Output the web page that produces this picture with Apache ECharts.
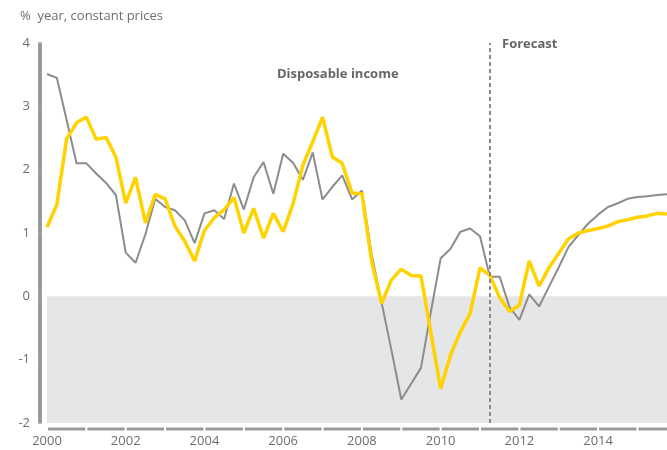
<!DOCTYPE html>
<html>
<head>
<meta charset="utf-8">
<script src="https://cdn.jsdelivr.net/npm/echarts@6/dist/echarts.min.js"></script>
<style>
  html, body { margin: 0; padding: 0; background: #fff; }
  #chart { width: 667px; height: 450px; }
</style>
</head>
<body>
<div id="chart"></div>
<script>
// quarterly points, 2000 Q1 .. 2015 Q4
const startYear = 2000;
const disposableIncome = [
  3.51, 3.45, 2.78, 2.10,
  2.10, 1.94, 1.79, 1.60,
  0.69, 0.53, 0.98, 1.54,
  1.41, 1.36, 1.20, 0.84,
  1.31, 1.36, 1.22, 1.78,
  1.37, 1.88, 2.12, 1.62,
  2.25, 2.11, 1.84, 2.27,
  1.53, 1.73, 1.91, 1.53,
  1.67, 0.65, -0.10, -0.85,
  -1.63, -1.38, -1.13, -0.25,
  0.60, 0.75, 1.02, 1.07,
  0.95, 0.31, 0.31, -0.17,
  -0.37, 0.03, -0.16, 0.15,
  0.46, 0.78, 0.97, 1.15,
  1.29, 1.41, 1.47, 1.54,
  1.57, 1.58, 1.60, 1.61
];
const consumption = [
  1.09, 1.45, 2.49, 2.74,
  2.83, 2.48, 2.51, 2.20,
  1.47, 1.88, 1.16, 1.61,
  1.54, 1.11, 0.87, 0.56,
  1.04, 1.24, 1.37, 1.56,
  1.00, 1.39, 0.92, 1.31,
  1.02, 1.46, 2.07, 2.44,
  2.83, 2.20, 2.10, 1.63,
  1.62, 0.54, -0.11, 0.26,
  0.43, 0.33, 0.32, -0.57,
  -1.46, -0.93, -0.56, -0.27,
  0.45, 0.33, -0.02, -0.24,
  -0.14, 0.56, 0.16, 0.45,
  0.68, 0.91, 1.00, 1.04,
  1.07, 1.11, 1.18, 1.21,
  1.25, 1.27, 1.31, 1.30
];
const forecastStart = 2011.25;
const xMin = 2000, xMax = 2015.75;
const yMin = -2, yMax = 4;

const toPairs = arr => arr.map((v, i) => [startYear + i / 4, v]);

const textColor = '#6e6e6e';
const axisColor = '#9a9a9a';
const fontFamily = 'Open Sans, Lato, sans-serif';

const chart = echarts.init(document.getElementById('chart'));

// grid geometry, only used for the axis line pieces
const gridLeft = 47, gridRight = 0, gridTop = 43, gridBottom = 27;
const plotRight = 667 - gridRight;
const yearPx = (plotRight - gridLeft) / (xMax - xMin);
const unitPx = Math.round((450 - gridTop - gridBottom) / (yMax - yMin) * 100) / 100;
const xLineY = 450 - gridBottom + 6;

// baseline under the plot: one grey piece per year with a small gap between
const baseline = [];
for (let x = gridLeft; x < plotRight - 1; x += yearPx) {
  baseline.push({
    type: 'rect',
    silent: true,
    z: 100,
    shape: { x: x + 1, y: xLineY - 1.5, width: Math.min(yearPx - 2, plotRight - x - 1), height: 3 },
    style: { fill: axisColor }
  });
}

chart.setOption({
  animation: false,
  grid: { left: gridLeft, right: gridRight, top: gridTop, bottom: gridBottom, outerBoundsMode: 'none' },
  graphic: [
    { type: 'text', left: 20, top: 10, style: { text: '%  year, constant prices', fill: textColor, font: '13px ' + fontFamily } },
    { type: 'text', left: 502, top: 38, style: { text: 'Forecast', fill: '#666', font: 'bold 13px ' + fontFamily } },
    { type: 'text', left: 277, top: 68, style: { text: 'Disposable income', fill: '#666', font: 'bold 13px ' + fontFamily } },
    { type: 'text', left: 277, top: 377, style: { text: 'Consumption', fill: '#666', font: 'bold 13px ' + fontFamily } },
    { type: 'group', children: baseline }
  ],
  xAxis: {
    type: 'value',
    min: xMin,
    max: xMax,
    interval: 2,
    offset: 6,
    axisLine: { show: false, onZero: false },
    axisTick: { show: false },
    splitLine: { show: false },
    axisLabel: {
      color: textColor,
      fontSize: 13,
      fontFamily: fontFamily,
      margin: 6,
      formatter: v => (v % 2 === 0 ? String(v) : '')
    }
  },
  yAxis: {
    type: 'value',
    min: yMin,
    max: yMax,
    interval: 1,
    offset: 7,
    axisLine: {
      show: true,
      onZero: false,
      lineStyle: { color: axisColor, width: 4, type: [unitPx - 2, 2], dashOffset: -1 }
    },
    axisTick: { show: false },
    splitLine: { show: false },
    axisLabel: { color: textColor, fontSize: 13, fontFamily: fontFamily, margin: 10 }
  },
  series: [
    {
      name: 'bg',
      type: 'line',
      z: 1,
      data: [],
      silent: true,
      markArea: {
        silent: true,
        itemStyle: { color: '#e5e6e8' },
        data: [[{ coord: [xMin, yMin] }, { coord: [xMax, 0] }]]
      },
      markLine: {
        silent: true,
        symbol: 'none',
        label: { show: false },
        lineStyle: { color: '#8a8a8a', width: 2, type: [4, 3] },
        data: [{ xAxis: forecastStart }]
      }
    },
    {
      name: 'Disposable income',
      type: 'line',
      z: 3,
      data: toPairs(disposableIncome),
      symbol: 'none',
      lineStyle: { color: '#8c8c8e', width: 2 }
    },
    {
      name: 'Consumption',
      type: 'line',
      z: 4,
      data: toPairs(consumption),
      symbol: 'none',
      lineStyle: { color: '#ffd200', width: 3.5 }
    }
  ]
});
</script>
</body>
</html>
